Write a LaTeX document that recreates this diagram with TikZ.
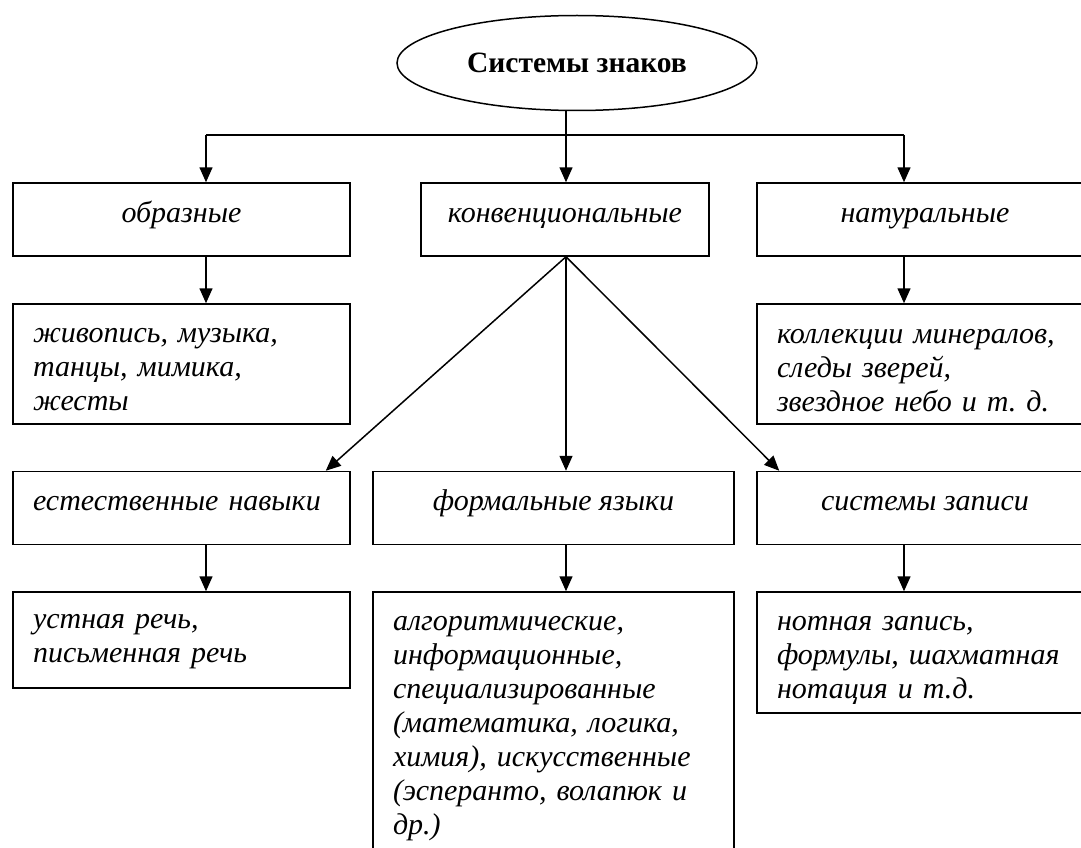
\documentclass[tikz,border=0pt]{standalone}
\usepackage{fontspec}
\setmainfont{Liberation Serif}
\frenchspacing
\usetikzlibrary{arrows.meta,shapes.geometric}

\begin{document}
\begin{tikzpicture}[x=1pt, y=-1pt, line width=1.5pt,
        arr/.style={-{Triangle[length=15pt,width=13pt]}},
        box/.style={draw, rectangle, inner sep=0pt, font=\fontsize{30}{34}\selectfont\itshape},
        onebox/.style={box, minimum height=73pt, text height=39pt, text depth=34pt},
        listbox/.style={box, align=left, text width=#1, inner xsep=20pt}]
        \useasboundingbox (0,0) rectangle (1081,848);
        \clip (0,0) rectangle (1081,848);

        \node[ellipse, draw, minimum width=360pt, minimum height=95pt, inner sep=0pt,
            font=\fontsize{29.5}{34}\selectfont\bfseries] (root) at (577,63) {Системы знаков};

        \node[onebox, minimum width=337pt] (figur) at (181.5,219.5) {образные};
        \node[onebox, minimum width=288pt] (conv) at (565,219.5) {конвенциональные};
        \node[onebox, minimum width=336pt] (natur) at (925,219.5) {натуральные};

        \node[listbox=297pt, text height=38pt, text depth=82pt] (figex) at (181.5,364)
            {живопись, музыка,\\ танцы, мимика,\\ жесты};
        \node[listbox=296pt, text height=39pt, text depth=81pt] (naturex) at (925,364)
            {коллекции минералов,\\ следы зверей,\\ звездное небо и т. д.};

        \node[onebox, text width=297pt, align=left, inner xsep=20pt] (speech) at (181.5,508) {естественные навыки};
        \node[onebox, minimum width=361pt] (formal) at (553.5,508) {формальные языки};
        \node[onebox, minimum width=336pt] (notat) at (925,508) {системы записи};

        \node[listbox=297pt, text height=36pt, text depth=60pt] (speechex) at (181.5,640)
            {устная речь,\\ письменная речь};
        \node[listbox=321pt, text height=38pt, text depth=232pt] (formalex) at (553.5,727)
            {алгоритмические,\\ информационные,\\ специализированные\\ (математика, логика,\\ химия), искусственные\\ (эсперанто, волапюк и\\ др.)};
        \node[listbox=296pt, text height=38pt, text depth=83pt] (notatex) at (925,652.5)
            {нотная запись,\\ формулы, шахматная\\ нотация и т.д.};

        \coordinate (hubL) at (206,135);
        \coordinate (hub) at (566,135);
        \coordinate (hubR) at (904,135);

        \draw (hubL) -- (hubR);
        \draw[arr] (root.south -| hub) -- (conv.north -| hub);
        \draw[arr] (hubL) -- (figur.north -| hubL);
        \draw[arr] (hubR) -- (natur.north -| hubR);

        \draw[arr] (figur.south -| hubL) -- (figex.north -| hubL);
        \draw[arr] (natur.south -| hubR) -- (naturex.north -| hubR);

        \draw[arr] (conv.south -| hub) -- ([xshift=-25pt]speech.north east);
        \draw[arr] (conv.south -| hub) -- (formal.north -| hub);
        \draw[arr] (conv.south -| hub) -- ([xshift=23pt]notat.north west);

        \draw[arr] (speech.south -| hubL) -- (speechex.north -| hubL);
        \draw[arr] (formal.south -| hub) -- (formalex.north -| hub);
        \draw[arr] (notat.south -| hubR) -- (notatex.north -| hubR);
    \end{tikzpicture}
\end{document}
